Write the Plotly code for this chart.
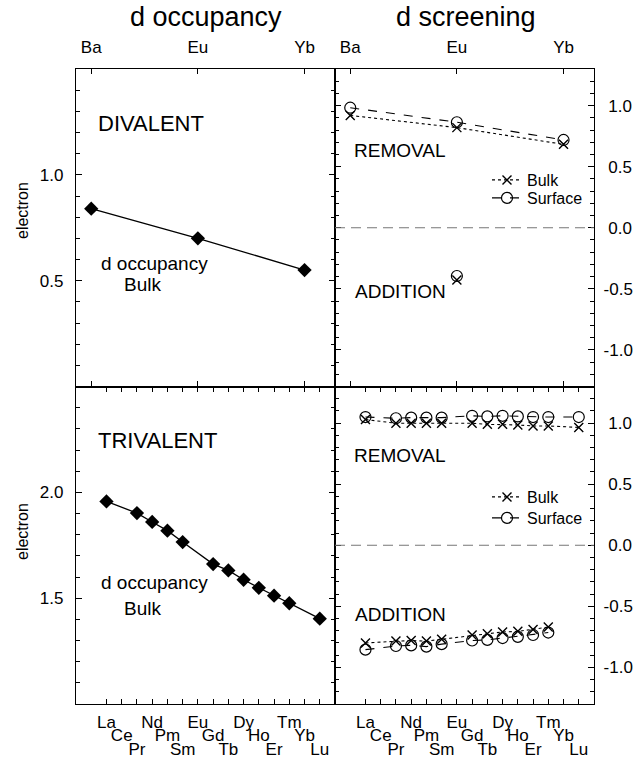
import plotly.graph_objects as go

# ---------------- data ----------------
Z_div = [56, 63, 70]
div_labels = ["Ba", "Eu", "Yb"]
occ_div = [0.84, 0.70, 0.55]

scr_div_rem_bulk = [0.92, 0.82, 0.683]
scr_div_rem_surf = [0.983, 0.864, 0.719]
Z_div_add = [63]
scr_div_add_bulk = [-0.428]
scr_div_add_surf = [-0.395]

Z_all = list(range(57, 72))
tri_labels = ["La", "Ce", "Pr", "Nd", "Pm", "Sm", "Eu", "Gd", "Tb", "Dy", "Ho", "Er", "Tm", "Yb", "Lu"]

Z_tri = [57, 59, 60, 61, 62, 64, 65, 66, 67, 68, 69, 71]
occ_tri = [1.957, 1.902, 1.86, 1.819, 1.765, 1.661, 1.631, 1.587, 1.549, 1.512, 1.476, 1.403]

scr_tri_rem_bulk = [1.03, 0.999, 0.999, 0.999, 0.999, 0.999, 0.99, 0.99, 0.985, 0.977, 0.977, 0.965]
scr_tri_rem_surf = [1.05, 1.04, 1.045, 1.045, 1.045, 1.06, 1.055, 1.06, 1.055, 1.05, 1.05, 1.05]

Z_tri_add = [57, 59, 60, 61, 62, 64, 65, 66, 67, 68, 69]
scr_tri_add_bulk = [-0.80, -0.785, -0.78, -0.785, -0.77, -0.735, -0.725, -0.71, -0.705, -0.69, -0.67]
scr_tri_add_surf = [-0.855, -0.825, -0.82, -0.83, -0.81, -0.78, -0.775, -0.76, -0.75, -0.735, -0.715]

scr_vals = [-1.0, -0.5, 0.0, 0.5, 1.0]
scr_text = ["-1.0", "-0.5", "\u00a00.0", "\u00a00.5", "\u00a01.0"]

FONT = "Liberation Sans, Arial, Helvetica, sans-serif"
W, H = 641, 759
ML, MR, MT, MB = 76, 47, 69, 55
PW = W - ML - MR
PH = H - MT - MB


def px(x):
    return (x - ML) / PW


def py(y):
    return (H - MB - y) / PH


fig = go.Figure()

diamond = dict(symbol="diamond", size=11, color="black")
xmark = dict(symbol="x-thin-open", size=9, color="black", line=dict(width=1.4, color="black"))
omark = dict(symbol="circle-open", size=11, color="black", line=dict(width=1.2, color="black"))
bulk_line = dict(color="black", width=1.1, dash="dot")
surf_line = dict(color="black", width=1.1, dash="dash")

# top-left: divalent occupancy
fig.add_trace(go.Scatter(x=Z_div, y=occ_div, mode="lines+markers", marker=diamond,
                         line=dict(color="black", width=1.3), xaxis="x", yaxis="y", showlegend=False))
# bottom-left: trivalent occupancy
fig.add_trace(go.Scatter(x=Z_tri, y=occ_tri, mode="lines+markers", marker=diamond,
                         line=dict(color="black", width=1.3), xaxis="x3", yaxis="y3", showlegend=False))

# top-right: divalent screening
fig.add_trace(go.Scatter(x=Z_div, y=scr_div_rem_bulk, mode="lines+markers", marker=xmark, name="Bulk",
                         line=bulk_line, xaxis="x2", yaxis="y2", legend="legend"))
fig.add_trace(go.Scatter(x=Z_div, y=scr_div_rem_surf, mode="lines+markers", marker=omark, name="Surface",
                         line=surf_line, xaxis="x2", yaxis="y2", legend="legend2"))
fig.add_trace(go.Scatter(x=Z_div_add, y=scr_div_add_bulk, mode="markers", marker=xmark,
                         xaxis="x2", yaxis="y2", showlegend=False))
fig.add_trace(go.Scatter(x=Z_div_add, y=scr_div_add_surf, mode="markers", marker=omark,
                         xaxis="x2", yaxis="y2", showlegend=False))

# bottom-right: trivalent screening
fig.add_trace(go.Scatter(x=Z_tri, y=scr_tri_rem_bulk, mode="lines+markers", marker=xmark, name="Bulk",
                         line=bulk_line, xaxis="x4", yaxis="y4", legend="legend3"))
fig.add_trace(go.Scatter(x=Z_tri, y=scr_tri_rem_surf, mode="lines+markers", marker=omark, name="Surface",
                         line=surf_line, xaxis="x4", yaxis="y4", legend="legend4"))
fig.add_trace(go.Scatter(x=Z_tri_add, y=scr_tri_add_bulk, mode="lines+markers", marker=xmark,
                         line=bulk_line, xaxis="x4", yaxis="y4", showlegend=False))
fig.add_trace(go.Scatter(x=Z_tri_add, y=scr_tri_add_surf, mode="lines+markers", marker=omark,
                         line=surf_line, xaxis="x4", yaxis="y4", showlegend=False))

# invisible carrier traces for the staggered tick-label axes
for xa in ["x5", "x6"]:
    fig.add_trace(go.Scatter(x=Z_tri, y=occ_tri, mode="markers", marker=dict(opacity=0),
                             xaxis=xa, yaxis="y3", showlegend=False, hoverinfo="skip"))
for xa in ["x7", "x8"]:
    fig.add_trace(go.Scatter(x=Z_tri, y=scr_tri_rem_bulk, mode="markers", marker=dict(opacity=0),
                             xaxis=xa, yaxis="y4", showlegend=False, hoverinfo="skip"))

XR = [55, 72]
base_x = dict(range=XR, showline=True, linecolor="black", linewidth=1.3, mirror="ticks",
              ticks="inside", ticklen=5, tickwidth=1, tickcolor="black", showgrid=False,
              zeroline=False, tickfont=dict(size=17, color="black", family=FONT), fixedrange=True,
              automargin=False)


def row_text(k):
    return [lab if i % 3 == k else "" for i, lab in enumerate(tri_labels)]


def minor():
    return dict(tick0=0, dtick=0.1, ticks="inside", ticklen=4, tickcolor="black", showgrid=False)


base_y = dict(showline=True, linecolor="black", linewidth=1.3, mirror="ticks", ticks="inside",
              ticklen=6, tickwidth=1, tickcolor="black", showgrid=False, zeroline=False,
              tickfont=dict(size=17, color="black", family=FONT), tickmode="array",
              ticklabelstandoff=8, fixedrange=True, automargin=False)

leg = dict(xanchor="left", yanchor="middle", bgcolor="rgba(0,0,0,0)",
           font=dict(size=16, family=FONT, color="black"), tracegroupgap=0, itemwidth=30)
LX = px(487)

fig.update_layout(
    width=W, height=H, margin=dict(l=ML, r=MR, t=MT, b=MB, autoexpand=False),
    paper_bgcolor="white", plot_bgcolor="white",
    font=dict(family=FONT, color="black"),
    xaxis=dict(base_x, domain=[0, 0.5], anchor="y", side="top", tickmode="array",
               tickvals=Z_div, ticktext=div_labels, ticklabelstandoff=8),
    xaxis2=dict(base_x, domain=[0.5, 1], anchor="y2", side="top", tickmode="array",
                tickvals=Z_div, ticktext=div_labels, ticklabelstandoff=8),
    xaxis3=dict(base_x, domain=[0, 0.5], anchor="y3", side="bottom", tickmode="array",
                tickvals=Z_all, ticktext=row_text(0), ticklabelstandoff=2),
    xaxis4=dict(base_x, domain=[0.5, 1], anchor="y4", side="bottom", tickmode="array",
                tickvals=Z_all, ticktext=row_text(0), ticklabelstandoff=2),
    xaxis5=dict(base_x, domain=[0, 0.5], anchor="y3", overlaying="x3", side="bottom", showline=False,
                ticks="", mirror=False, tickmode="array", tickvals=Z_all, ticktext=row_text(1),
                ticklabelstandoff=19),
    xaxis6=dict(base_x, domain=[0, 0.5], anchor="y3", overlaying="x3", side="bottom", showline=False,
                ticks="", mirror=False, tickmode="array", tickvals=Z_all, ticktext=row_text(2),
                ticklabelstandoff=33),
    xaxis7=dict(base_x, domain=[0.5, 1], anchor="y4", overlaying="x4", side="bottom", showline=False,
                ticks="", mirror=False, tickmode="array", tickvals=Z_all, ticktext=row_text(1),
                ticklabelstandoff=19),
    xaxis8=dict(base_x, domain=[0.5, 1], anchor="y4", overlaying="x4", side="bottom", showline=False,
                ticks="", mirror=False, tickmode="array", tickvals=Z_all, ticktext=row_text(2),
                ticklabelstandoff=33),
    yaxis=dict(base_y, domain=[0.5, 1], anchor="x", range=[0, 1.5], tickvals=[0.5, 1.0],
               ticktext=["0.5", "1.0"], minor=minor()),
    yaxis2=dict(base_y, domain=[0.5, 1], anchor="x2", side="right", range=[-1.3, 1.3],
                tickvals=scr_vals, ticktext=scr_text, minor=minor(), ticklabelstandoff=5),
    yaxis3=dict(base_y, domain=[0, 0.5], anchor="x3", range=[1.0, 2.5], tickvals=[1.5, 2.0],
                ticktext=["1.5", "2.0"], minor=minor()),
    yaxis4=dict(base_y, domain=[0, 0.5], anchor="x4", side="right", range=[-1.3, 1.3],
                tickvals=scr_vals, ticktext=scr_text, minor=minor(), ticklabelstandoff=5),
    legend=dict(leg, x=LX, y=py(180)),
    legend2=dict(leg, x=LX, y=py(198)),
    legend3=dict(leg, x=LX, y=py(497)),
    legend4=dict(leg, x=LX, y=py(518)),
    showlegend=True,
)

# dashed zero lines in screening panels
for xr, yr in [("x2 domain", "y2"), ("x4 domain", "y4")]:
    fig.add_shape(type="line", xref=xr, yref=yr, x0=0, x1=1, y0=0, y1=0,
                  line=dict(color="#777777", width=1.1, dash="10px,6px"))


def ann(text, x, y, size, xanchor="left", angle=0):
    fig.add_annotation(text=text, x=px(x), y=py(y), xref="paper", yref="paper", showarrow=False,
                       xanchor=xanchor, yanchor="middle", textangle=angle,
                       font=dict(size=size, family=FONT, color="black"))


ann("d occupancy", 206, 17, 27, "center")
ann("d screening", 466, 17, 27, "center")
ann("DIVALENT", 96, 123, 22)
ann("TRIVALENT", 96, 441, 22)
ann("d occupancy", 99, 263, 19)
ann("Bulk", 122, 284, 19)
ann("d occupancy", 99, 582, 19)
ann("Bulk", 122, 608, 19)
ann("REMOVAL", 352, 150, 19)
ann("ADDITION", 353, 291, 19)
ann("REMOVAL", 352, 455, 19)
ann("ADDITION", 353, 614, 19)
ann("electron", 22, 211, 16, "center", -90)
ann("electron", 22, 532, 16, "center", -90)

fig.write_html("out.html")
